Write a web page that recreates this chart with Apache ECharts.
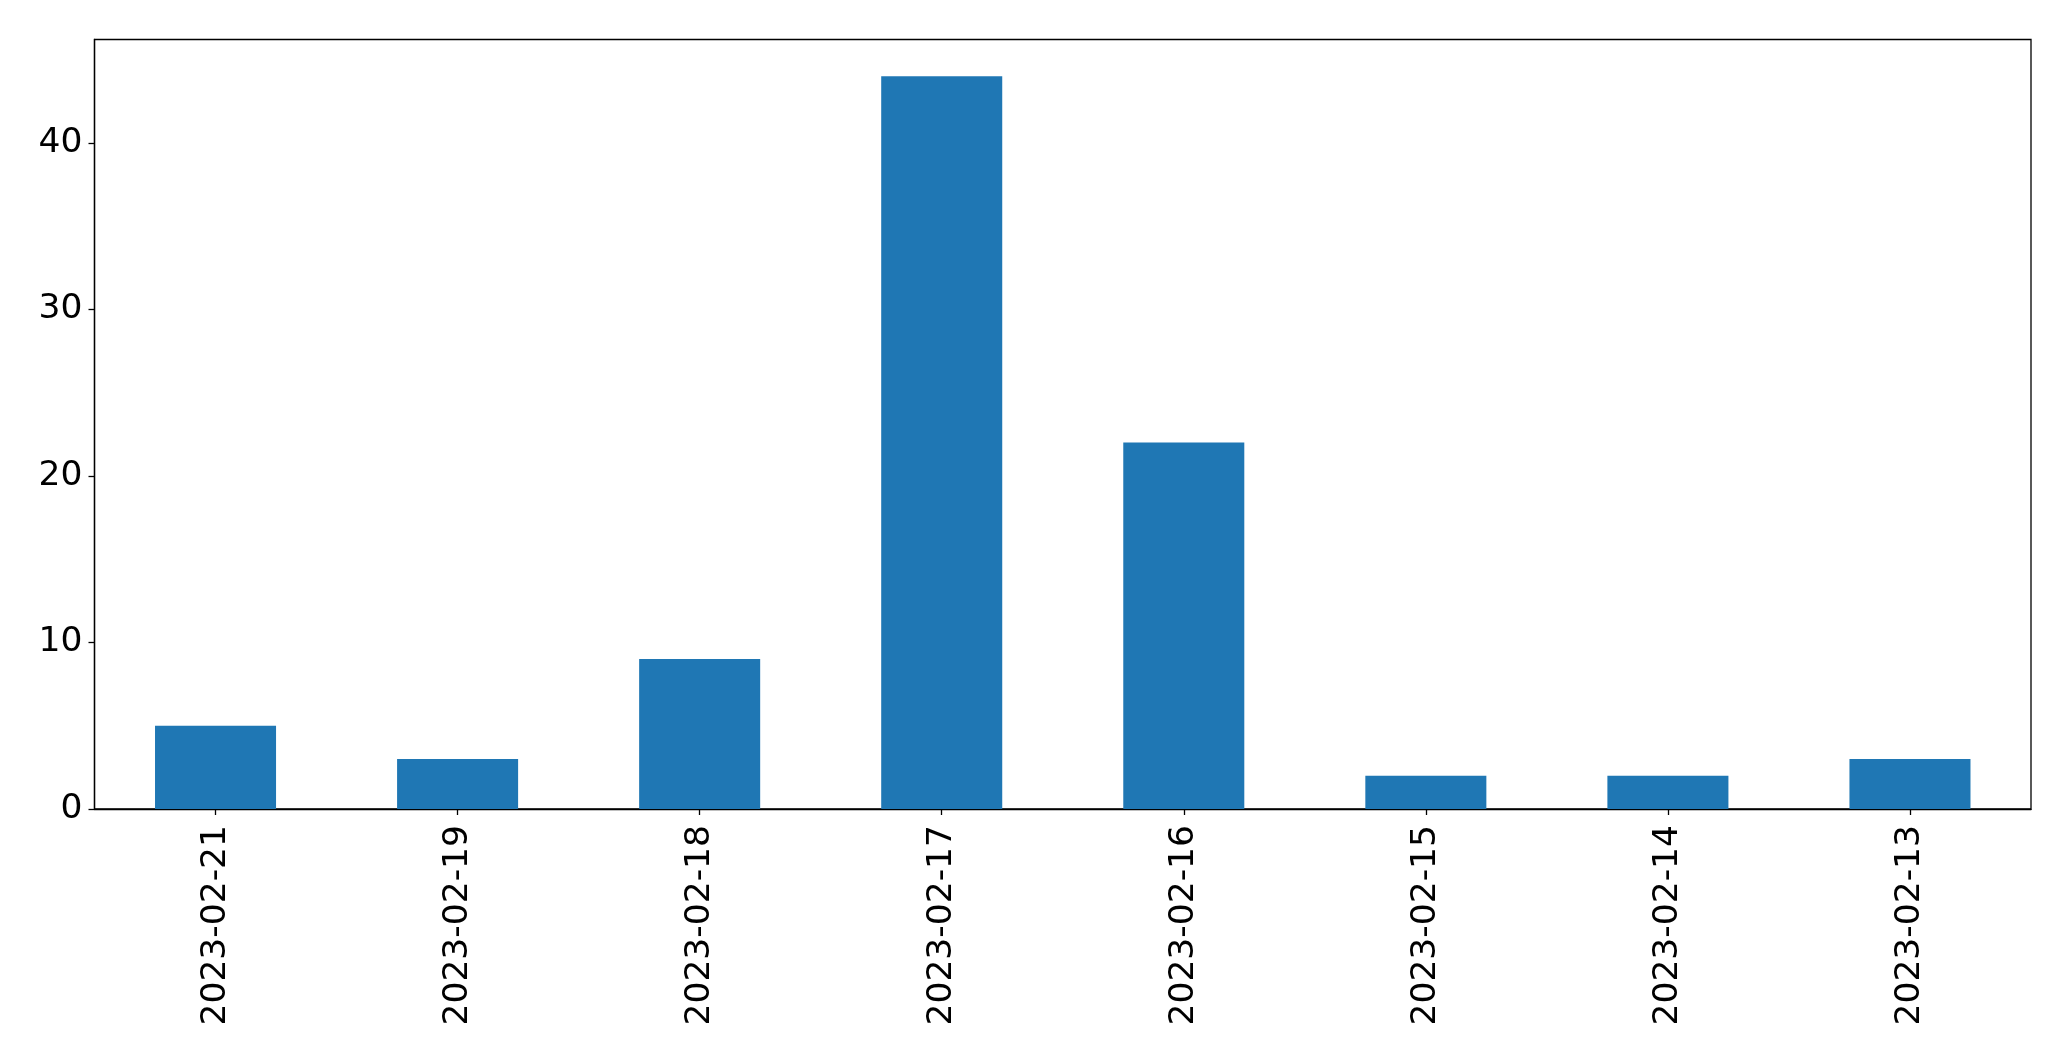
<!DOCTYPE html>
<html>
<head>
<meta charset="utf-8">
<script src="https://cdn.jsdelivr.net/npm/echarts@6/dist/echarts.min.js"></script>
<style>
html,body{margin:0;padding:0;background:#fff;}
#chart{width:2071px;height:1061px;}
</style>
</head>
<body>
<div id="chart"></div>
<script>
const categories = ["2023-02-21","2023-02-19","2023-02-18","2023-02-17","2023-02-16","2023-02-15","2023-02-14","2023-02-13"];
const values = [5, 3, 9, 44, 22, 2, 2, 3];
const yTicks = [0, 10, 20, 30, 40];
const yMax = 46.2;

const chart = echarts.init(document.getElementById('chart'), null, {renderer: 'canvas'});
const font = 'DejaVu Sans';
chart.setOption({
  animation: false,
  backgroundColor: '#ffffff',
  grid: {
    left: 94.5, top: 39.5, right: 40, bottom: 252,
    show: true, borderColor: '#000', borderWidth: 1.3, backgroundColor: 'transparent'
  },
  xAxis: {
    type: 'category',
    data: categories,
    axisLine: {show: true, lineStyle: {color: '#000', width: 1.3}},
    axisTick: {show: true, alignWithLabel: true, length: 6, lineStyle: {color: '#000', width: 1.3}},
    axisLabel: {rotate: 90, margin: 16, fontFamily: font, fontSize: 34.5, color: '#000', interval: 0}
  },
  yAxis: {
    type: 'value',
    min: 0, max: yMax,
    splitLine: {show: false},
    axisLine: {show: true, lineStyle: {color: '#000', width: 1.3}},
    axisTick: {show: true, length: 6, lineStyle: {color: '#000', width: 1.3}, customValues: yTicks},
    axisLabel: {margin: 12, fontFamily: font, fontSize: 34.5, color: '#000', customValues: yTicks}
  },
  series: [{
    type: 'bar',
    data: values,
    barWidth: '50%',
    itemStyle: {color: '#1f77b4'}
  }]
});
</script>
</body>
</html>
